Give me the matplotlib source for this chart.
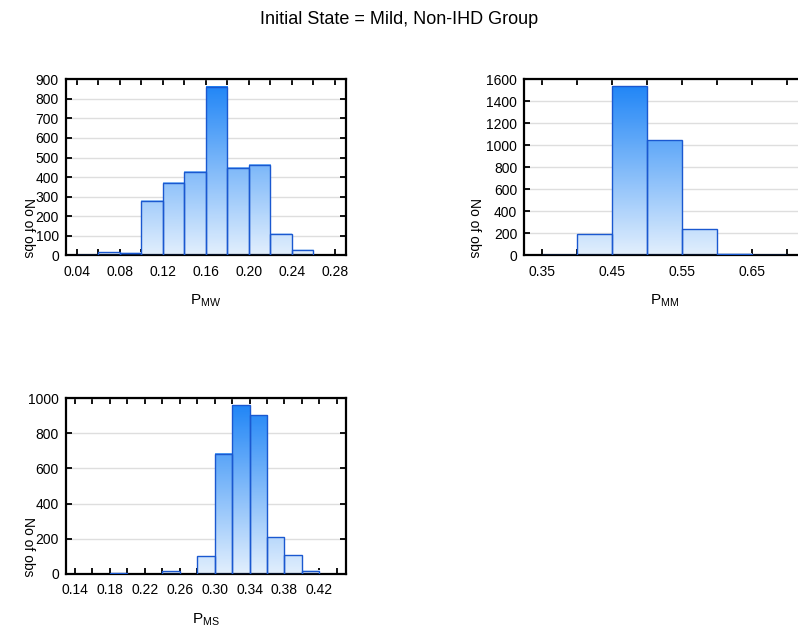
import numpy as np
import matplotlib
matplotlib.use("Agg")
import matplotlib.pyplot as plt
from matplotlib.colors import LinearSegmentedColormap

plt.rcParams['font.family'] = ['Liberation Sans', 'DejaVu Sans']
plt.rcParams['mathtext.default'] = 'regular'

# histogram data (bin left edges, counts)
mw_edges = [0.04, 0.06, 0.08, 0.10, 0.12, 0.14, 0.16, 0.18, 0.20, 0.22, 0.24]
mw_counts = [2, 15, 12, 280, 370, 425, 862, 447, 462, 110, 28]
mw_width = 0.02

mm_edges = [0.35, 0.40, 0.45, 0.50, 0.55, 0.60, 0.65]
mm_counts = [2, 190, 1535, 1045, 235, 15, 5]
mm_width = 0.05

ms_edges = [0.18, 0.24, 0.28, 0.30, 0.32, 0.34, 0.36, 0.38, 0.40]
ms_counts = [2, 15, 100, 685, 960, 903, 208, 107, 18]
ms_width = 0.02

title = "Initial State = Mild, Non-IHD Group"
ylabel = "No of obs"

W, H = 798, 633
fig = plt.figure(figsize=(W / 100, H / 100), dpi=100)

cmap = LinearSegmentedColormap.from_list("grad", ["#e2effd", "#1a82f6"])
edge_col = "#1a58d0"


def panel(rect, edges, counts, width, xlim, ylim, yticks, xmajor, xminor, xlab):
    ax = fig.add_axes(rect)
    ymax = ylim[1]
    for x0, c in zip(edges, counts):
        grad = np.linspace(0, c / ymax, 128).reshape(-1, 1)
        ax.imshow(grad, extent=[x0, x0 + width, 0, c], origin="lower",
                  aspect="auto", cmap=cmap, vmin=0, vmax=1, zorder=2)
    ax.bar(edges, counts, width=width, align="edge", fill=False,
           edgecolor=edge_col, linewidth=1.0, zorder=3)
    ax.set_xlim(*xlim)
    ax.set_ylim(*ylim)
    ax.set_yticks(yticks)
    ax.set_xticks(xmajor)
    ax.set_xticks(xminor, minor=True)
    ax.set_xticklabels(["%.2f" % v for v in xmajor])
    ax.yaxis.grid(True, color="#dedede", linewidth=1.0, zorder=0)
    ax.set_axisbelow(True)
    ax.tick_params(axis="both", which="both", direction="in", top=True,
                   right=True, length=4, width=1.3, labelsize=10, pad=5)
    ax.tick_params(axis="x", which="major", pad=7)
    for s in ax.spines.values():
        s.set_linewidth(1.6)
    ax.set_xlabel(xlab, fontsize=11, labelpad=10)
    return ax


r1 = [65.7 / W, 1 - 255.3 / H, 280.3 / W, 176 / H]
r2 = [524.3 / W, 1 - 255.3 / H, 280.3 / W, 176 / H]
r3 = [65.7 / W, 1 - 573.7 / H, 280.3 / W, 175.4 / H]

panel(r1, mw_edges, mw_counts, mw_width, (0.0295, 0.2905), (0, 900),
      range(0, 901, 100), np.arange(0.04, 0.281, 0.04), np.arange(0.04, 0.281, 0.02),
      "P$_{MW}$")
panel(r2, mm_edges, mm_counts, mm_width, (0.324, 0.7245), (0, 1600),
      range(0, 1601, 200), np.arange(0.35, 0.66, 0.1), np.arange(0.35, 0.72, 0.05),
      "P$_{MM}$")
panel(r3, ms_edges, ms_counts, ms_width, (0.1295, 0.4505), (0, 1000),
      range(0, 1001, 200), np.arange(0.14, 0.421, 0.04), np.arange(0.14, 0.441, 0.02),
      "P$_{MS}$")

fig.text(28 / W, 1 - 228 / H, ylabel, rotation=270, ha="center", va="center", fontsize=10)
fig.text(474 / W, 1 - 228 / H, ylabel, rotation=270, ha="center", va="center", fontsize=10)
fig.text(28 / W, 1 - 547 / H, ylabel, rotation=270, ha="center", va="center", fontsize=10)

fig.text(0.5, 1 - 19 / H, title, ha="center", va="center", fontsize=13)

fig.savefig("out.png", dpi=100)
